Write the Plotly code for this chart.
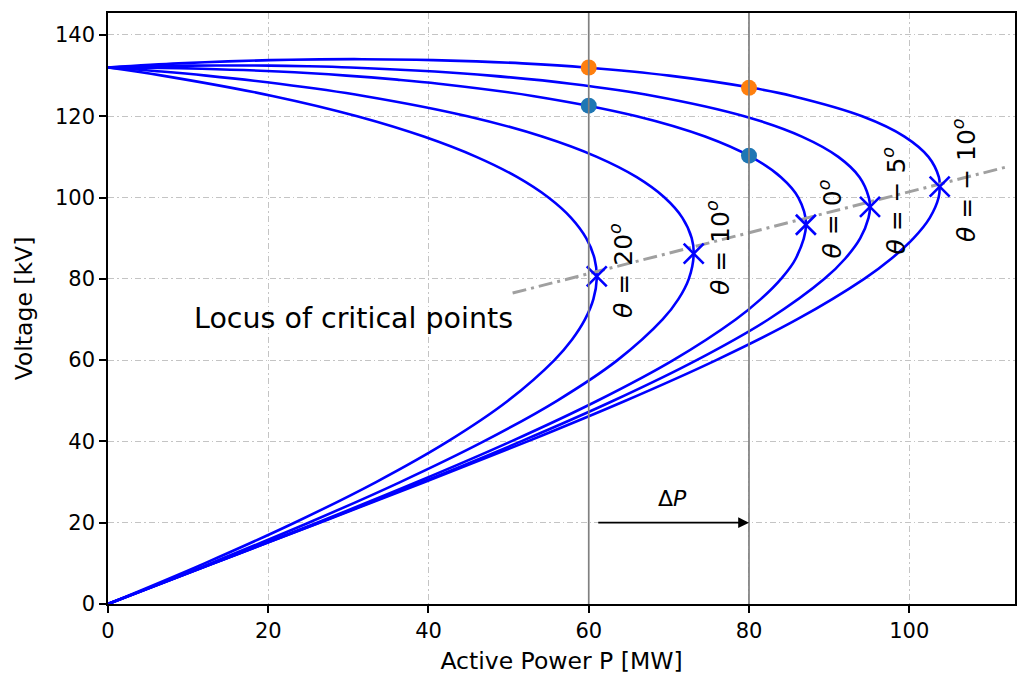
import plotly.graph_objects as go

# ---- data ----
theta_labels = ["20", "10", "0", "− 5", "− 10"]

V_t20 = [132, 130, 125, 120, 115, 110, 105, 100, 95, 90, 85, 80, 75, 70, 65, 60, 50, 40, 30, 20, 10, 0]
P_t20 = [0, 6.78, 20.52, 31.10, 39.41, 45.97, 51.09, 54.97, 57.80, 59.68, 60.72, 61.00, 60.58, 59.53,
         57.90, 55.72, 49.92, 42.42, 33.46, 23.27, 12.05, 0]

V_t10 = [132, 131, 130, 128, 125, 120, 115, 110, 105, 100, 95, 90, 86, 80, 75, 70, 60, 50, 40, 30, 20, 10, 0]
P_t10 = [0, 6.70, 12.26, 21.35, 31.93, 44.87, 54.18, 61.01, 65.99, 69.46, 71.69, 72.85, 73.10, 72.49,
         71.19, 69.22, 63.59, 56.03, 46.89, 36.47, 25.03, 12.79, 0]

V_t0 = [132, 131.9, 131.7, 131, 130, 129, 128, 125, 120, 115, 110, 105, 100, 93.3, 85, 80, 75, 70, 60,
        50, 40, 30, 20, 10, 0]
P_t0 = [0, 6.78, 11.71, 21.25, 29.76, 36.10, 41.28, 53.0, 65.99, 74.52, 80.26, 83.99, 86.16, 87.12,
        85.84, 84.0, 81.47, 78.34, 70.55, 61.08, 50.32, 38.56, 26.10, 13.16, 0]

V_tm5 = [132, 132.3, 132.45, 132.5, 132.45, 132.3, 132, 131, 130, 128, 125, 120, 115, 110, 105, 100,
         97.7, 95, 90, 85, 80, 70, 60, 50, 40, 30, 20, 10, 0]
P_tm5 = [0, 5.54, 10.24, 15.24, 20.22, 24.86, 30.26, 40.78, 47.75, 57.74, 68.10, 79.42, 86.60, 91.15,
         93.80, 94.96, 95.1, 94.92, 93.89, 92.02, 89.42, 82.41, 73.47, 63.06, 51.54, 39.21, 26.34,
         13.20, 0]

V_tm10 = [132, 133, 133.5, 133.9, 134.04, 133.9, 133.5, 133, 132, 130, 127, 125, 120, 115, 110, 105,
          102.7, 100, 95, 90, 85, 80, 70, 60, 50, 40, 30, 20, 10, 0]
P_tm10 = [0, 8.80, 14.97, 22.81, 30.72, 38.51, 45.98, 51.71, 59.59, 70.06, 80.37, 85.38, 94.13, 99.41,
          102.40, 103.70, 103.8, 103.67, 102.56, 100.55, 97.79, 94.38, 85.99, 75.91, 64.58, 52.37,
          39.54, 26.40, 13.13, 0]

P_crit = [61.0, 73.1, 87.1, 95.1, 103.8]
V_crit = [80.6, 86.2, 93.3, 97.7, 102.7]

locus_P = [50.5, 112.1]
locus_V = [76.5, 107.5]

P_load = [60, 80]
V_theta0 = [122.6, 110.3]
V_thetam10 = [132.0, 127.0]

dP_start, dP_end, dP_V = 61, 80, 20

curves = [(P_t20, V_t20), (P_t10, V_t10), (P_t0, V_t0), (P_tm5, V_tm5), (P_tm10, V_tm10)]

FONT = "DejaVu Sans"
fig = go.Figure()

for P, V in curves:
    fig.add_trace(go.Scatter(x=P, y=V, mode="lines", line=dict(color="#0000ff", width=2.6, shape="spline"),
                             showlegend=False, hoverinfo="skip"))

# vertical load lines
for p in P_load:
    fig.add_vline(x=p, line=dict(color="#808080", width=1.7))

# locus
fig.add_trace(go.Scatter(x=locus_P, y=locus_V, mode="lines",
                         line=dict(color="#a0a0a0", width=3, dash="14px,5px,3px,5px"),
                         showlegend=False, hoverinfo="skip"))

# critical points
fig.add_trace(go.Scatter(x=P_crit, y=V_crit, mode="markers",
                         marker=dict(symbol="x-thin", size=20, line=dict(color="#0000ff", width=2.6)),
                         showlegend=False, hoverinfo="skip"))

fig.add_trace(go.Scatter(x=P_load, y=V_theta0, mode="markers",
                         marker=dict(color="#1f77b4", size=16), showlegend=False, hoverinfo="skip"))
fig.add_trace(go.Scatter(x=P_load, y=V_thetam10, mode="markers",
                         marker=dict(color="#ff7f0e", size=16), showlegend=False, hoverinfo="skip"))

# theta labels
for lab, p, v in zip(theta_labels, P_crit, V_crit):
    fig.add_annotation(x=p + 3.1, y=v + 1.5, xref="x", yref="y",
                       text=f"<i>θ</i> = {lab}<sup><i>o</i></sup>", textangle=-90, showarrow=False,
                       font=dict(family=FONT, size=25, color="black"), xanchor="center", yanchor="middle")

fig.add_annotation(x=10.5, y=70.2, xref="x", yref="y", text="Locus of critical points", showarrow=False,
                   font=dict(family=FONT, size=28.5, color="black"), xanchor="left", yanchor="middle")

# delta P arrow
fig.add_annotation(x=dP_end, y=dP_V, ax=dP_start, ay=dP_V, xref="x", yref="y", axref="x", ayref="y",
                   text="", showarrow=True, arrowhead=2, arrowsize=1.2, arrowwidth=1.8, arrowcolor="black")
fig.add_annotation(x=(dP_start + dP_end) / 2, y=dP_V + 6, xref="x", yref="y", text="Δ<i>P</i>",
                   showarrow=False, font=dict(family=FONT, size=22, color="black"))

axis_common = dict(showline=True, mirror=True, linecolor="black", linewidth=1.5, ticks="outside",
                   ticklen=7, tickwidth=1.5, tickcolor="black", showgrid=True, gridcolor="#c4c4c4",
                   gridwidth=1, griddash="6px,3px,1.5px,3px", zeroline=False,
                   tickfont=dict(family=FONT, size=21, color="black"))

fig.update_xaxes(range=[0, 113.2], tickvals=[0, 20, 40, 60, 80, 100],
                 title=dict(text="Active Power P [MW]", font=dict(family=FONT, size=23.5, color="black"),
                            standoff=12), **axis_common)
fig.update_yaxes(range=[0, 145.4], tickvals=[0, 20, 40, 60, 80, 100, 120, 140],
                 title=dict(text="Voltage [kV]", font=dict(family=FONT, size=23.5, color="black"),
                            standoff=16), **axis_common)

fig.update_layout(width=1018, height=675, margin=dict(l=108, r=1, t=13, b=71),
                  plot_bgcolor="white", paper_bgcolor="white", showlegend=False)

fig.write_html("out.html")
